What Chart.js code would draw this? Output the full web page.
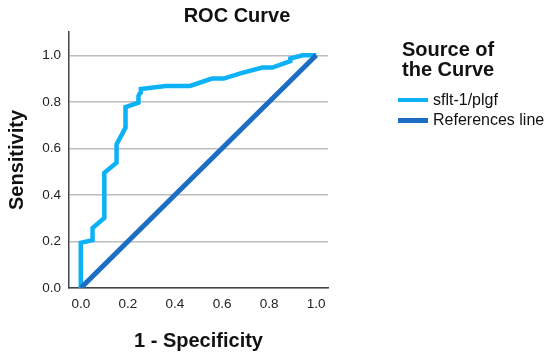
<!DOCTYPE html>
<html>
<head>
<meta charset="utf-8">
<script src="https://cdn.jsdelivr.net/npm/chart.js@4"></script>
<style>
  body { margin: 0; background: #fff; font-family: "Liberation Sans", Arial, sans-serif; }
  #wrap { position: relative; width: 550px; height: 358px; }
  #title { position: absolute; left: 137px; width: 200px; top: 4px; text-align: center; font-weight: bold; font-size: 20px; color: #111; }
  #legend { position: absolute; left: 398px; top: 39px; color: #111; }
  #legend .lt { font-weight: bold; font-size: 20px; line-height: 20px; margin-left: 4px; }
  #legend .item { display: flex; align-items: center; font-size: 16px; height: 20px; }
  #legend .sw { width: 30px; height: 4px; margin-right: 5px; }
</style>
</head>
<body>
<div id="wrap">
  <canvas id="roc" width="550" height="358"></canvas>
  <div id="title">ROC Curve</div>
  <div id="legend">
    <div class="lt">Source of<br>the Curve</div>
    <div style="height:11px"></div>
    <div class="item"><span class="sw" style="background:#0DB1F5"></span>sflt-1/plgf</div>
    <div class="item"><span class="sw" style="background:#1C6EC4;height:5px"></span>References line</div>
  </div>
</div>
<script>
// ROC curve: 1 - specificity vs sensitivity
const fpr = [0, 0, 0.05, 0.05, 0.10, 0.10, 0.152, 0.152, 0.19, 0.19, 0.245, 0.245, 0.25, 0.255, 0.255, 0.36, 0.464, 0.557, 0.607, 0.678, 0.771, 0.814, 0.89, 0.89, 0.942, 0.99, 1];
const tpr = [0, 0.194, 0.205, 0.258, 0.301, 0.495, 0.538, 0.617, 0.689, 0.777, 0.796, 0.825, 0.835, 0.84, 0.855, 0.868, 0.868, 0.9, 0.9, 0.922, 0.947, 0.947, 0.975, 0.986, 1.0, 1.0, 1];
const refX = [0, 1];
const refY = [0, 1];
const xTicks = [0, 0.2, 0.4, 0.6, 0.8, 1.0];
const yTicks = [0, 0.2, 0.4, 0.6, 0.8, 1.0];

const toPoints = (xs, ys) => xs.map((x, i) => ({ x: x, y: ys[i] }));
const tickFont = { family: '"Liberation Sans", Arial, sans-serif', size: 13.5 };
const titleFont = { family: '"Liberation Sans", Arial, sans-serif', size: 20, weight: 'bold' };

new Chart(document.getElementById('roc'), {
    type: 'scatter',
    data: {
        datasets: [
            {
                label: 'sflt-1/plgf',
                data: toPoints(fpr, tpr),
                showLine: true,
                borderColor: '#0DB1F5',
                borderWidth: 4.5,
                pointRadius: 0,
                tension: 0,
                order: 2
            },
            {
                label: 'References line',
                data: toPoints(refX, refY),
                showLine: true,
                borderColor: '#1C6EC4',
                borderWidth: 5,
                pointRadius: 0,
                order: 1
            }
        ]
    },
    options: {
        responsive: false,
        animation: false,
        devicePixelRatio: 1,
        layout: { padding: { top: 32, right: 222, left: 0, bottom: 0 } },
        plugins: { legend: { display: false }, tooltip: { enabled: false } },
        scales: {
            x: {
                type: 'linear',
                min: -0.05,
                max: 1.05,
                afterBuildTicks: s => { s.ticks = xTicks.map(v => ({ value: v })); },
                afterFit: s => { s.height = 70; },
                ticks: { font: tickFont, color: '#222', padding: 8, maxRotation: 0, autoSkip: false,
                         callback: v => Number(v).toFixed(1) },
                grid: { display: false, drawTicks: false },
                border: { display: true, color: '#444', width: 1.5 },
                title: { display: true, text: '1 - Specificity', font: titleFont, color: '#111', padding: { top: 0, bottom: 5 } }
            },
            y: {
                type: 'linear',
                min: 0,
                max: 1.1,
                afterBuildTicks: s => { s.ticks = yTicks.map(v => ({ value: v })); },
                afterFit: s => { s.width = 69; },
                ticks: { font: tickFont, color: '#222', padding: 8, autoSkip: false,
                         callback: v => Number(v).toFixed(1) },
                grid: { color: '#BDBDBD', lineWidth: 1.5, drawTicks: false },
                border: { display: true, color: '#444', width: 1.5 },
                title: { display: true, text: 'Sensitivity', font: titleFont, color: '#111', padding: { top: 5, bottom: 5 } }
            }
        }
    }
});
</script>
</body>
</html>
